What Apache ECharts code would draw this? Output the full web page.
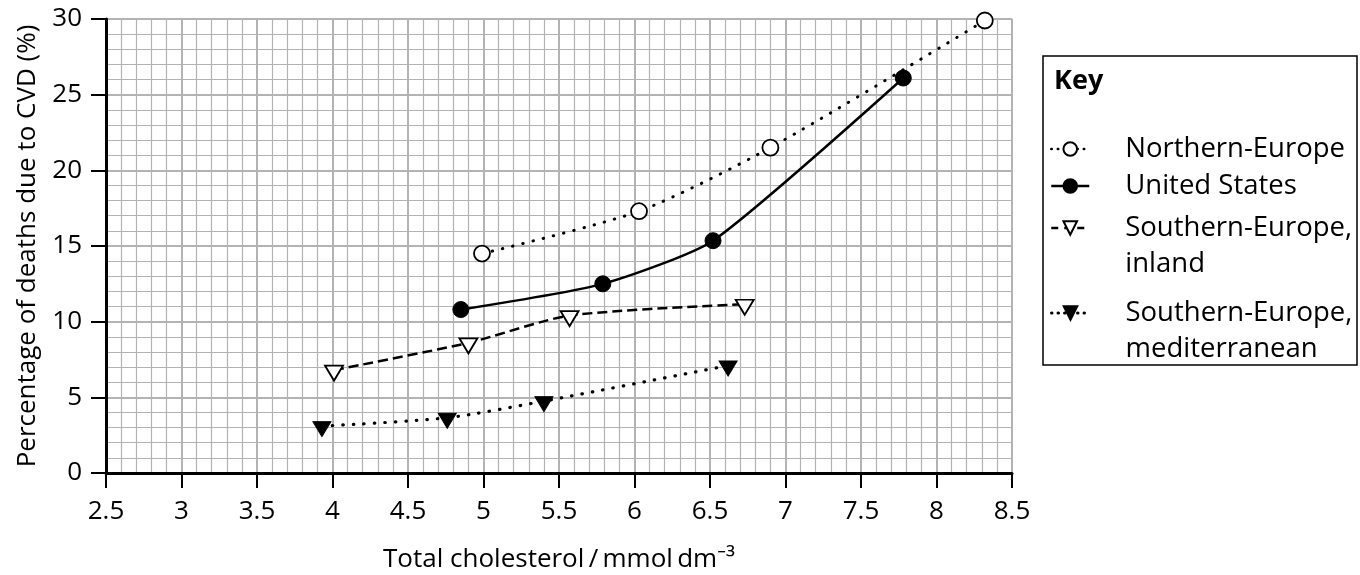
<!DOCTYPE html>
<html lang="en">
<head>
    <meta charset="utf-8">
    <title>Cholesterol and CVD deaths</title>
    <script src="https://cdn.jsdelivr.net/npm/echarts@6/dist/echarts.min.js"></script>
    <style>
        html, body { margin: 0; padding: 0; background: #fff; }
        #main { width: 1360px; height: 575px; }
    </style>
</head>
<body>
<div id="main"></div>
<script type="text/javascript">
    // values (x = total cholesterol, y = % deaths due to CVD)
    var neX = [4.99, 6.03, 6.90, 8.32];
    var neY = [14.5, 17.3, 21.5, 29.9];
    var usX = [4.85, 5.79, 6.52, 7.78];
    var usY = [10.8, 12.5, 15.35, 26.1];
    var seiX = [4.01, 4.90, 5.57, 6.73];
    var seiY = [6.8, 8.6, 10.4, 11.15];
    var semX = [3.93, 4.76, 5.40, 6.62];
    var semY = [3.1, 3.65, 4.75, 7.1];

    var seriesNames = ['Northern-Europe', 'United States', 'Southern-Europe, inland', 'Southern-Europe, mediterranean'];
    var keyLabels = ['Northern-Europe', 'United States', '\nSouthern-Europe,\ninland', '\nSouthern-Europe,\nmediterranean'];
    var keyTops = [131, 168, 174, 259];

    var FONT = "'Open Sans', 'Noto Sans', sans-serif";
    var GRID_GREY = '#b3b3b3';

    function pairs(xs, ys) {
        var out = [];
        for (let i = 0; i < xs.length; i++) {
            out.push([xs[i], ys[i]]);
        }
        return out;
    }

    // shared look of both axes, the graph-paper grid included
    function makeAxis(min, max, step, name, nameGap, labelMargin) {
        return {
            type: 'value',
            min: min,
            max: max,
            interval: step,
            name: name,
            nameLocation: 'middle',
            nameGap: nameGap,
            nameTextStyle: {fontFamily: FONT, fontSize: 26, color: '#000'},
            axisLine: {show: true, onZero: false, lineStyle: {color: '#000', width: 3}},
            axisTick: {show: true, length: 15, lineStyle: {color: '#000', width: 2}},
            axisLabel: {
                fontFamily: FONT, fontSize: 26, color: '#000', margin: labelMargin,
                showMinLabel: true, showMaxLabel: true, hideOverlap: false
            },
            splitLine: {show: true, lineStyle: {color: GRID_GREY, width: 2}},
            minorTick: {show: false, splitNumber: 5},
            minorSplitLine: {show: true, lineStyle: {color: GRID_GREY, width: 1.2}}
        };
    }

    var myChart = echarts.init(document.getElementById('main'));

    // key icons: tighter dot spacing than on the plot so the dots show in a short icon
    var keyLines = [
        {type: [0.5, 6], cap: 'round', width: 2.5},
        {type: 'solid', width: 2.5},
        {type: [7, 6], width: 2.5},
        {type: [0.5, 6], cap: 'round', width: 3}
    ];

    // one legend per entry so the two-line entries keep the icon on the first line
    var legends = [];
    for (let i = 0; i < seriesNames.length; i++) {
        legends.push({
            data: [seriesNames[i]],
            left: 1050,
            top: keyTops[i],
            orient: 'vertical',
            padding: 0,
            itemWidth: 38,
            itemHeight: 17,
            selectedMode: false,
            lineStyle: keyLines[i],
            formatter: (function (label) {
                return function () { return label; };
            })(keyLabels[i]),
            textStyle: {
                fontFamily: FONT,
                fontSize: 27.5,
                color: '#000',
                lineHeight: 36,
                padding: [0, 0, 0, 31]
            }
        });
    }

    var option = {
        animation: false,
        backgroundColor: '#fff',
        title: {
            text: 'Key',
            left: 1054,
            top: 68,
            padding: 0,
            textStyle: {fontFamily: FONT, fontSize: 27, fontWeight: 'bold', color: '#000'}
        },
        legend: legends,
        graphic: [{
            type: 'rect',
            shape: {x: 1043, y: 56, width: 314, height: 309},
            style: {fill: 'none', stroke: '#000', lineWidth: 1.5},
            silent: true
        }],
        grid: {left: 106, right: 348, top: 19, bottom: 102, outerBoundsMode: 'none'},
        xAxis: makeAxis(2.5, 8.5, 0.5, 'Total cholesterol\u2009/\u2009mmol\u2009dm\u207B\u00B3', 74, 26),
        yAxis: makeAxis(0, 30, 5, 'Percentage of deaths due to CVD (%)', 65, 24),
        series: [
            {
                name: seriesNames[0],
                type: 'line',
                data: pairs(neX, neY),
                smooth: 0.25,
                symbol: 'circle',
                symbolSize: 16,
                color: '#000',
                itemStyle: {color: '#fff', borderColor: '#000', borderWidth: 1.8},
                lineStyle: {color: '#000', width: 3, type: [0.5, 10], cap: 'round'},
                emphasis: {disabled: true},
                z: 3
            },
            {
                name: seriesNames[1],
                type: 'line',
                data: pairs(usX, usY),
                smooth: 0.2,
                symbol: 'circle',
                symbolSize: 16,
                color: '#000',
                itemStyle: {color: '#000', borderColor: '#000', borderWidth: 1},
                lineStyle: {color: '#000', width: 2.5, type: 'solid'},
                emphasis: {disabled: true},
                z: 3
            },
            {
                name: seriesNames[2],
                type: 'line',
                data: pairs(seiX, seiY),
                smooth: 0.25,
                symbol: 'triangle',
                symbolSize: [18, 15],
                symbolRotate: 180,
                symbolOffset: [0, 3],
                color: '#000',
                itemStyle: {color: '#fff', borderColor: '#000', borderWidth: 1.8},
                lineStyle: {color: '#000', width: 2.5, type: [10, 5]},
                emphasis: {disabled: true},
                z: 3
            },
            {
                name: seriesNames[3],
                type: 'line',
                data: pairs(semX, semY),
                smooth: 0.25,
                symbol: 'triangle',
                symbolSize: [18, 15],
                symbolRotate: 180,
                symbolOffset: [0, 3],
                color: '#000',
                itemStyle: {color: '#000', borderColor: '#000', borderWidth: 1},
                lineStyle: {color: '#000', width: 3.2, type: [0.5, 10], cap: 'round'},
                emphasis: {disabled: true},
                z: 3
            }
        ]
    };

    myChart.setOption(option);
</script>
</body>
</html>
